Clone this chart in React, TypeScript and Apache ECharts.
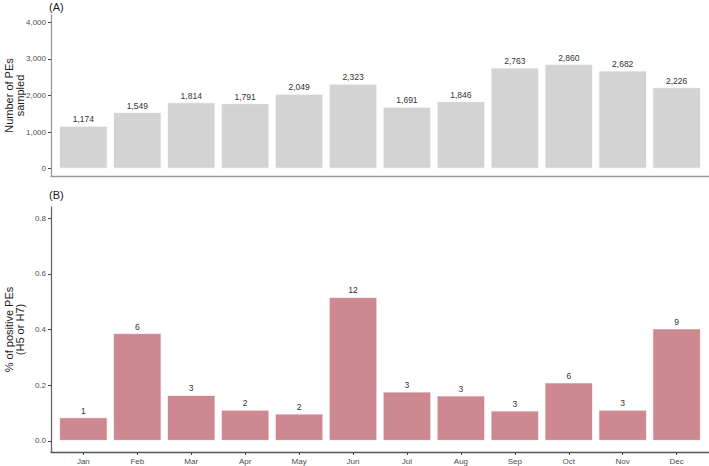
import React, { useEffect, useRef } from "react";
import * as echarts from "echarts";

const months = ["Jan", "Feb", "Mar", "Apr", "May", "Jun", "Jul", "Aug", "Sep", "Oct", "Nov", "Dec"];
const sampled = [1174, 1549, 1814, 1791, 2049, 2323, 1691, 1846, 2763, 2860, 2682, 2226];
const positiveCounts = [1, 6, 3, 2, 2, 12, 3, 3, 3, 6, 3, 9];
const positivePct = [0.085, 0.387, 0.165, 0.112, 0.098, 0.517, 0.177, 0.163, 0.109, 0.21, 0.112, 0.404];
const topTicks = [0, 1000, 2000, 3000, 4000];
const bottomTicks = [0, 0.2, 0.4, 0.6, 0.8];
const monthPositions = months.map((_, i) => i + 1);

const FONT = "Liberation Sans, Arial, sans-serif";

export default function App() {
  const ref = useRef<HTMLDivElement>(null);
  useEffect(() => {
    if (!ref.current) return;
    const chart = echarts.init(ref.current, undefined, { renderer: "svg" });
    const xBase = (gridIndex: number, showLabels: boolean, lineColor: string) => ({
      type: "value" as const,
      gridIndex,
      min: 0.4,
      max: 12.6,
      splitLine: { show: false },
      axisLine: { show: true, onZero: false, lineStyle: { color: lineColor, width: 1.3 } },
      axisTick: { show: showLabels, customValues: monthPositions, length: 3, lineStyle: { color: "#444" } },
      axisLabel: {
        show: showLabels,
        customValues: monthPositions,
        formatter: (v: number) => months[Math.round(v) - 1] ?? "",
        fontSize: 8,
        color: "#4d4d4d",
        fontFamily: FONT,
        margin: 5,
      },
    });
    const titleStyle = { fontSize: 11, fontWeight: "normal", color: "#1a1a1a", fontFamily: FONT };
    chart.setOption({
      animation: false,
      backgroundColor: "#ffffff",
      textStyle: { fontFamily: FONT },
      title: [
        { text: "(A)", left: 49, top: 1, padding: 0, textStyle: titleStyle },
        { text: "(B)", left: 49, top: 189, padding: 0, textStyle: titleStyle },
      ],
      grid: [
        { left: 51, right: 0, top: 15, height: 161, containLabel: false, outerBoundsMode: "none" },
        { left: 51, right: 0, top: 207, height: 245, containLabel: false, outerBoundsMode: "none" },
      ],
      xAxis: [xBase(0, false, "#999"), xBase(1, true, "#555")],
      yAxis: [
        {
          type: "value",
          gridIndex: 0,
          min: -200,
          max: 4200,
          splitLine: { show: false },
          axisLine: { show: true, onZero: false, lineStyle: { color: "#999", width: 1.3 } },
          axisTick: { show: true, customValues: topTicks, length: 3, lineStyle: { color: "#444" } },
          axisLabel: {
            customValues: topTicks,
            formatter: (v: number) => v.toLocaleString("en-US"),
            fontSize: 8,
            color: "#4d4d4d",
            fontFamily: FONT,
            margin: 5,
          },
          name: "Number of PEs\nsampled",
          nameLocation: "middle",
          nameGap: 26,
          nameMoveOverlap: false,
          nameTextStyle: { fontSize: 11, color: "#1a1a1a", fontFamily: FONT, lineHeight: 11 },
        },
        {
          type: "value",
          gridIndex: 1,
          min: -0.04,
          max: 0.84,
          splitLine: { show: false },
          axisLine: { show: true, onZero: false, lineStyle: { color: "#666", width: 1.3 } },
          axisTick: { show: true, customValues: bottomTicks, length: 3, lineStyle: { color: "#444" } },
          axisLabel: {
            customValues: bottomTicks,
            formatter: (v: number) => v.toFixed(1),
            fontSize: 8,
            color: "#4d4d4d",
            fontFamily: FONT,
            margin: 5,
          },
          name: "% of positive PEs\n(H5 or H7)",
          nameLocation: "middle",
          nameGap: 26,
          nameMoveOverlap: false,
          nameTextStyle: { fontSize: 11, color: "#1a1a1a", fontFamily: FONT, lineHeight: 11 },
        },
      ],
      series: [
        {
          type: "bar",
          xAxisIndex: 0,
          yAxisIndex: 0,
          barWidth: "90%",
          data: sampled.map((v, i) => [monthPositions[i], v]),
          itemStyle: { color: "#d3d3d3", borderColor: "rgba(255,255,255,0.7)", borderWidth: 1 },
          label: {
            show: true,
            position: "top",
            distance: 2,
            fontSize: 8.5,
            color: "#333",
            fontFamily: FONT,
            formatter: (p: any) => (p.value[1] as number).toLocaleString("en-US"),
          },
        },
        {
          type: "bar",
          xAxisIndex: 1,
          yAxisIndex: 1,
          barWidth: "90%",
          data: positivePct.map((v, i) => [monthPositions[i], v]),
          itemStyle: { color: "#cd8891", borderColor: "rgba(255,255,255,0.7)", borderWidth: 1 },
          label: {
            show: true,
            position: "top",
            distance: 2,
            fontSize: 8.5,
            color: "#333",
            fontFamily: FONT,
            formatter: (p: any) => String(positiveCounts[p.dataIndex]),
          },
        },
      ],
    });
    return () => chart.dispose();
  }, []);
  return (
    <div
      ref={ref}
      style={{ position: "absolute", left: 0, top: 0, width: 709, height: 466, background: "#fff" }}
    />
  );
}
